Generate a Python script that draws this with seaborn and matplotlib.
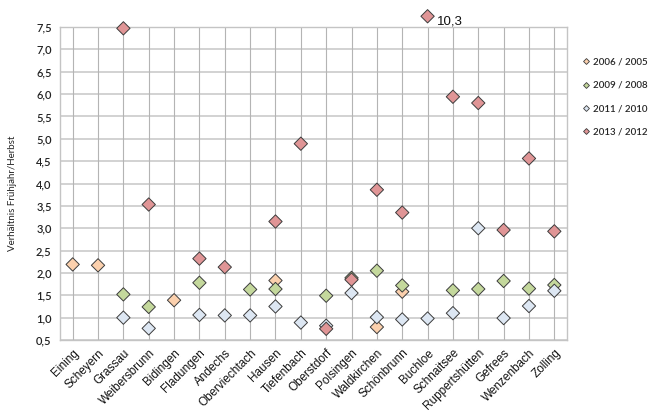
import numpy as np
import pandas as pd
import matplotlib
matplotlib.use('Agg')
import matplotlib.pyplot as plt
from matplotlib.lines import Line2D
import seaborn as sns

sns.set_theme(style="white")
plt.rcParams['font.family'] = ['Liberation Sans', 'DejaVu Sans']

nan = np.nan

sites = ['Eining', 'Scheyern', 'Grassau', 'Weibersbrunn', 'Bidingen', 'Fladungen',
         'Andechs', 'Oberviechtach', 'Hausen', 'Tiefenbach', 'Oberstdorf', 'Polsingen',
         'Waldkirchen', 'Schönbrunn', 'Buchloe', 'Schnaitsee', 'Ruppertshütten',
         'Gefrees', 'Wenzenbach', 'Zolling']

# ratio spring/autumn per site and period
r_2006 = [2.19, 2.17, nan, nan, 1.39, nan, nan, nan, 1.83, nan,
          nan, nan, 0.79, 1.58, nan, nan, nan, nan, nan, nan]
r_2009 = [nan, nan, 1.52, 1.24, nan, 1.78, nan, 1.63, 1.64, nan,
          1.49, 1.89, 2.05, 1.72, nan, 1.61, 1.64, 1.82, 1.65, 1.73]
r_2011 = [nan, nan, 1.00, 0.76, nan, 1.06, 1.05, 1.05, 1.25, 0.89,
          0.82, 1.55, 1.01, 0.96, 0.98, 1.10, 3.00, 0.99, 1.26, 1.60]
r_2013 = [nan, nan, 7.47, 3.53, nan, 2.32, 2.13, nan, 3.15, 4.89,
          0.75, 1.85, 3.86, 3.35, 10.3, 5.94, 5.80, 2.96, 4.56, 2.93]

periods = ['2006 / 2005', '2009 / 2008', '2011 / 2010', '2013 / 2012']
colors = ['#fbd0ad', '#c4d89c', '#dde7f3', '#e09596']

y_max = 7.5
y_break = 7.74  # where off-scale values are drawn, above the plot area

rows = []
for period, vals in zip(periods, [r_2006, r_2009, r_2011, r_2013]):
    for site, v in zip(sites, vals):
        if not np.isnan(v):
            rows.append({'site': site, 'period': period, 'ratio': v})
df = pd.DataFrame(rows)
df['site'] = pd.Categorical(df['site'], categories=sites, ordered=True)
df['y_plot'] = np.where(df['ratio'] > y_max, y_break, df['ratio'])

fig = plt.figure(figsize=(6.5, 4.13), dpi=100)
ax = fig.add_axes([60/650, 1-340/413, 507/650, 313/413])

sns.scatterplot(data=df, x='site', y='y_plot', hue='period', hue_order=periods,
                palette=colors, marker='D', s=46, edgecolor='#3c3c3c',
                linewidth=0.7, legend=False, clip_on=False, zorder=3, ax=ax)

# label for the off-scale value
for _, r in df[df['ratio'] > y_max].iterrows():
    ax.annotate(f"{r['ratio']:.1f}".replace('.', ','), (sites.index(r['site']), r['y_plot']),
                xytext=(7, -4), textcoords='offset points', ha='left', va='center',
                fontsize=9.5, color='#111111', annotation_clip=False)

ax.set_xlim(-0.5, len(sites) - 0.5)
ax.set_ylim(0.5, y_max)
yt = np.arange(0.5, 7.51, 0.5)
ax.set_yticks(yt)
ax.set_yticklabels([f"{v:.1f}".replace('.', ',') for v in yt], fontsize=8,
                   color='#222222', family=['Lato', 'DejaVu Sans'], fontweight='semibold')
ax.set_xticks(range(len(sites)))
ax.set_xticklabels(sites, rotation=45, ha='right', rotation_mode='anchor',
                   fontsize=8.5, color='#111111')
ax.tick_params(axis='x', length=0, pad=5)
ax.tick_params(axis='y', length=0, pad=6)

ax.grid(False)
for v in yt:
    ax.axhline(v, color='#d2d2d2', lw=1.4, zorder=1)
for i in range(len(sites)):
    ax.axvline(i, color='#b4b4b4', lw=0.8, zorder=1)
for sp in ax.spines.values():
    sp.set_color('#c4c4c4')
    sp.set_linewidth(1.0)

ax.set_xlabel('')
ax.set_ylabel('Verhältnis Frühjahr/Herbst', fontsize=7, color='#222222',
              family=['Lato', 'DejaVu Sans'])
ax.yaxis.set_label_coords(-0.085, 0.47)

handles = [Line2D([0], [0], marker='D', linestyle='', markersize=3,
                  markerfacecolor=c, markeredgecolor='#3c3c3c', markeredgewidth=0.6)
           for c in colors]
fig.legend(handles, periods, loc='upper left', bbox_to_anchor=(578/650, 1-54/413),
           frameon=False, labelspacing=1.45, handlelength=0.8,
           handletextpad=0.3, borderaxespad=0,
           prop={'family': ['Lato', 'DejaVu Sans'], 'size': 7, 'weight': 'semibold'})

fig.savefig('out.png', dpi=100)
